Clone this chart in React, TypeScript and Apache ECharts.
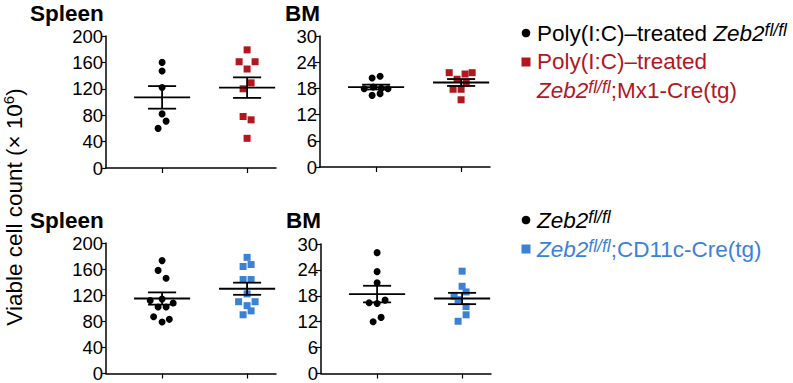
import React, { useEffect, useRef } from "react";
import * as echarts from "echarts";

// ---- data (×10^6 viable cells) ----
const spleenTopCtrl = [160, 147, 122, 82, 71, 60];
const spleenTopCtrlJit = [0, 0, 0, 0, 0.047, -0.047];
const spleenTopMx1 = [179, 161, 161, 150, 129, 120, 78, 73, 45];
const spleenTopMx1Jit = [0, -0.094, 0.094, 0, 0.047, -0.047, -0.047, 0.047, 0];

const bmTopCtrl = [20.4, 20.8, 17.9, 18.3, 18.0, 17.9, 16.4, 16.8];
const bmTopCtrlJit = [-0.047, 0.047, -0.14, -0.035, 0.06, 0.14, -0.047, 0.047];
const bmTopMx1 = [21.6, 21.3, 21.6, 20.1, 19.2, 17.8, 17.8, 15.4];
const bmTopMx1Jit = [-0.14, 0.047, 0.13, -0.047, 0.06, -0.094, 0, 0];

const spleenBotCtrl = [173, 158, 146, 112, 114, 108, 102, 102, 87, 79, 83];
const spleenBotCtrlJit = [0, -0.047, 0.047, -0.14, 0, 0.13, -0.047, 0.047, -0.1, 0, 0.085];
const spleenBotCd11c = [178, 164, 167, 144, 144, 122, 110, 110, 104, 90, 96];
const spleenBotCd11cJit = [0, -0.047, 0.047, -0.047, 0.047, 0, -0.1, 0.094, 0, -0.047, 0.047];

const bmBotCtrl = [28.0, 23.6, 21.0, 16.4, 16.2, 17.0, 12.0, 13.0];
const bmBotCtrlJit = [0, 0, 0, -0.094, 0, 0.094, -0.047, 0.047];
const bmBotCd11c = [23.7, 20.2, 18.9, 17.9, 17.1, 15.5, 13.6, 12.1];
const bmBotCd11cJit = [0, 0, 0.047, -0.094, -0.047, 0.047, 0.047, -0.047];

const groupPositions = [1, 2];
const spleenTicks = { min: 0, max: 200, interval: 40 };
const bmTicks = { min: 0, max: 30, interval: 6 };

const RED = "#b3161f";
const BLUE = "#3b82d6";
const FONT = "'Liberation Sans', Arial, Helvetica, sans-serif";

function meanSem(arr: number[]) {
  const n = arr.length;
  const m = arr.reduce((a, b) => a + b, 0) / n;
  const sd = Math.sqrt(arr.reduce((a, b) => a + (b - m) * (b - m), 0) / (n - 1));
  const sem = sd / Math.sqrt(n);
  return [m, m - sem, m + sem];
}

export default function App() {
  const ref = useRef<HTMLDivElement>(null);
  useEffect(() => {
    if (!ref.current) return;
    const chart = echarts.init(ref.current, null, { renderer: "svg" });

    const grids = [
      { left: 106, top: 36, width: 170, height: 132 },
      { left: 320, top: 36, width: 170, height: 131 },
      { left: 106, top: 243, width: 170, height: 133 },
      { left: 321, top: 244, width: 170, height: 132 },
    ];
    const xAxes = grids.map((_, i) => ({
      type: "value",
      gridIndex: i,
      min: 0.34,
      max: 2.34,
      splitLine: { show: false },
      axisLine: { show: true, onZero: false, lineStyle: { color: "#000", width: 1.5 } },
      axisTick: { show: true, customValues: groupPositions, length: 5, lineStyle: { color: "#000", width: 1.2 } },
      axisLabel: { show: false },
    }));
    const yAxes = grids.map((_, i) => {
      const t = i % 2 === 0 ? spleenTicks : bmTicks;
      return {
        type: "value",
        gridIndex: i,
        min: t.min,
        max: t.max,
        interval: t.interval,
        splitLine: { show: false },
        axisLine: { show: true, lineStyle: { color: "#000", width: 1.5 } },
        axisTick: { show: true, length: 5, lineStyle: { color: "#000", width: 1.2 } },
        axisLabel: { color: "#000", fontSize: 18.5, fontFamily: FONT, margin: 3 },
      };
    });

    const groups = [
      { vals: spleenTopCtrl, jit: spleenTopCtrlJit, pos: 1, panel: 0, sym: "circle", color: "#000" },
      { vals: spleenTopMx1, jit: spleenTopMx1Jit, pos: 2, panel: 0, sym: "rect", color: RED },
      { vals: bmTopCtrl, jit: bmTopCtrlJit, pos: 1, panel: 1, sym: "circle", color: "#000" },
      { vals: bmTopMx1, jit: bmTopMx1Jit, pos: 2, panel: 1, sym: "rect", color: RED },
      { vals: spleenBotCtrl, jit: spleenBotCtrlJit, pos: 1, panel: 2, sym: "circle", color: "#000" },
      { vals: spleenBotCd11c, jit: spleenBotCd11cJit, pos: 2, panel: 2, sym: "rect", color: BLUE },
      { vals: bmBotCtrl, jit: bmBotCtrlJit, pos: 1, panel: 3, sym: "circle", color: "#000" },
      { vals: bmBotCd11c, jit: bmBotCd11cJit, pos: 2, panel: 3, sym: "rect", color: BLUE },
    ];

    const series: any[] = [];
    groups.forEach((g) => {
      series.push({
        type: "scatter",
        xAxisIndex: g.panel,
        yAxisIndex: g.panel,
        symbol: g.sym,
        symbolSize: 7,
        itemStyle: { color: g.color, opacity: 1 },
        data: g.vals.map((v, i) => [g.pos + g.jit[i], v]),
        z: 2,
      });
      const [m, lo, hi] = meanSem(g.vals);
      series.push({
        type: "custom",
        xAxisIndex: g.panel,
        yAxisIndex: g.panel,
        z: 3,
        clip: false,
        data: [[g.pos, m, lo, hi]],
        renderItem: (params: any, api: any) => {
          const x = api.value(0);
          const mm = api.value(1);
          const l = api.value(2);
          const h = api.value(3);
          const a1 = api.coord([x - 0.33, mm]);
          const a2 = api.coord([x + 0.33, mm]);
          const b1 = api.coord([x - 0.165, l]);
          const b2 = api.coord([x + 0.165, l]);
          const c1 = api.coord([x - 0.165, h]);
          const c2 = api.coord([x + 0.165, h]);
          const v1 = api.coord([x, l]);
          const v2 = api.coord([x, h]);
          const st = { stroke: "#000", lineWidth: 1.8 };
          const ln = (p: number[], q: number[]) => ({
            type: "line",
            shape: { x1: p[0], y1: p[1], x2: q[0], y2: q[1] },
            style: st,
          });
          return { type: "group", children: [ln(a1, a2), ln(b1, b2), ln(c1, c2), ln(v1, v2)] };
        },
      });
    });

    const LF = 22.5;
    const legendText = (x: number, y: number, text: string, color: string) => ({
      type: "text",
      x,
      y,
      style: {
        text,
        fill: color,
        fontSize: LF,
        fontFamily: FONT,
        align: "left",
        verticalAlign: "middle",
        textAlign: "left",
        textVerticalAlign: "middle",
        rich: {
          i: { fontStyle: "italic", fontSize: LF, fontFamily: FONT, fill: color, lineHeight: 25 },
          sup: { fontStyle: "italic", fontSize: 17.5, fontFamily: FONT, fill: color, verticalAlign: "top", lineHeight: 16 },
          n: { fontSize: LF, fontFamily: FONT, fill: color, lineHeight: 25 },
        },
      },
    });
    const title = (x: number, y: number, text: string) => ({
      type: "text",
      x,
      y,
      style: {
        text,
        fill: "#000",
        fontSize: 22.5,
        fontWeight: "bold",
        fontFamily: FONT,
        align: "left",
        verticalAlign: "middle",
        textAlign: "left",
        textVerticalAlign: "middle",
      },
    });

    const graphic: any[] = [
      title(30, 13, "Spleen"),
      title(285, 13, "BM"),
      title(30, 220, "Spleen"),
      title(286, 220, "BM"),
      {
        type: "text",
        x: 14,
        y: 207,
        rotation: Math.PI / 2,
        style: {
          text: "{n|Viable cell count (× 10}{sup|6}{n|)}",
          fill: "#000",
          fontSize: 22.5,
          fontFamily: FONT,
          align: "center",
          verticalAlign: "middle",
          textAlign: "center",
          textVerticalAlign: "middle",
          rich: {
            n: { fontSize: 22.5, fontFamily: FONT, fill: "#000", lineHeight: 26 },
            sup: { fontSize: 15, fontFamily: FONT, fill: "#000", verticalAlign: "top", lineHeight: 15 },
          },
        },
      },
      { type: "circle", shape: { cx: 526, cy: 33, r: 4.3 }, style: { fill: "#000" } },
      legendText(537, 33, "{n|Poly(I:C)–treated }{i|Zeb2}{sup|fl/fl}", "#000"),
      { type: "rect", shape: { x: 521.5, y: 57.5, width: 9, height: 9 }, style: { fill: RED } },
      legendText(537, 61, "{n|Poly(I:C)–treated}", RED),
      legendText(537, 90, "{i|Zeb2}{sup|fl/fl}{n|;Mx1-Cre(tg)}", RED),
      { type: "circle", shape: { cx: 526, cy: 220, r: 4.3 }, style: { fill: "#000" } },
      legendText(537, 220, "{i|Zeb2}{sup|fl/fl}", "#000"),
      { type: "rect", shape: { x: 521.5, y: 244.5, width: 9, height: 9 }, style: { fill: BLUE } },
      legendText(537, 249, "{i|Zeb2}{sup|fl/fl}{n|;CD11c-Cre(tg)}", BLUE),
    ];

    chart.setOption({
      animation: false,
      backgroundColor: "#fff",
      grid: grids,
      xAxis: xAxes,
      yAxis: yAxes,
      series,
      graphic,
    });
    return () => chart.dispose();
  }, []);
  return (
    <div
      ref={ref}
      style={{ position: "absolute", left: 0, top: 0, width: 793, height: 383 }}
    />
  );
}
